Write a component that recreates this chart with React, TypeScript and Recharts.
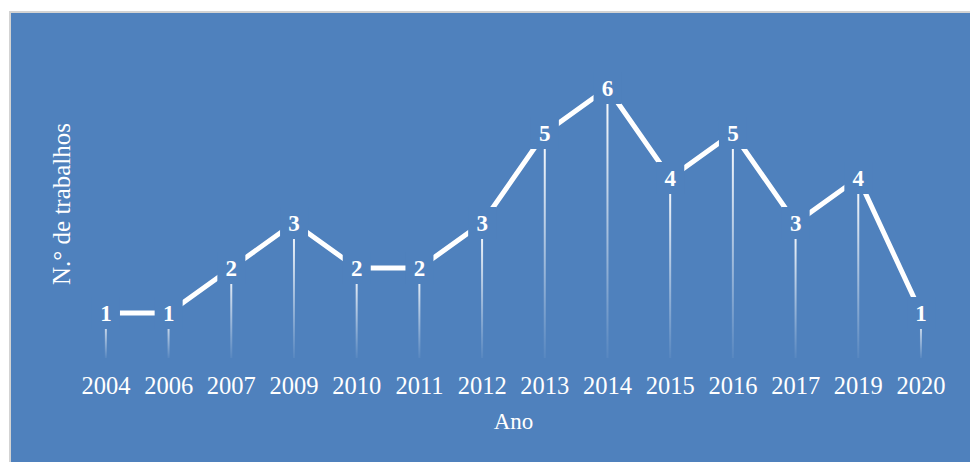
import React from 'react';
import { ComposedChart, Line, Bar, XAxis, YAxis, LabelList } from 'recharts';

const years = ['2004', '2006', '2007', '2009', '2010', '2011', '2012', '2013', '2014', '2015', '2016', '2017', '2019', '2020'];
const works = [1, 1, 2, 3, 2, 2, 3, 5, 6, 4, 5, 3, 4, 1];

const data = years.map((year, i) => ({ year, works: works[i] }));

const BG = '#4F81BD';
const FONT = '"Liberation Serif", "Times New Roman", serif';

// thin fading drop line from the point to the baseline
const DropLine = (props: any) => {
  const { x, y, width, height } = props;
  if (!height || height <= 0) return null;
  return <rect x={x + width / 2 - 1} y={y} width={2} height={height} fill="url(#dropFade)" />;
};

// value label sitting on a background-coloured box that breaks the line
const ValueLabel = (props: any) => {
  const { x, y, value } = props;
  return (
    <g>
      <rect x={x - 14} y={y - 16} width={28} height={32} fill={BG} />
      <text x={x} y={y + 8} textAnchor="middle" fill="#fff" fontFamily={FONT} fontWeight="bold" fontSize={23}>
        {value}
      </text>
    </g>
  );
};

const YearTick = (props: any) => {
  const { x, y, payload } = props;
  return (
    <text x={x} y={y + 36} textAnchor="middle" fill="#fff" fontFamily={FONT} fontSize={24.5}>
      {payload.value}
    </text>
  );
};

export default function App() {
  return (
    <div>
      <div
        style={{
          position: 'fixed',
          left: 9,
          top: 11,
          right: 0,
          bottom: 0,
          background: BG,
          borderLeft: '2px solid #d3d3d3',
          borderTop: '2px solid #d3d3d3',
        }}
      />
      <div style={{ position: 'fixed', left: 0, top: 0 }}>
        <ComposedChart
          width={970}
          height={462}
          data={data}
          margin={{ top: 88, right: 17.6, bottom: 0, left: 74.6 }}
        >
          <defs>
            <linearGradient id="dropFade" x1="0" y1="0" x2="0" y2="1">
              <stop offset="0%" stopColor="#ffffff" stopOpacity={1} />
              <stop offset="100%" stopColor="#ffffff" stopOpacity={0.05} />
            </linearGradient>
          </defs>
          <XAxis
            dataKey="year"
            height={104}
            axisLine={false}
            tickLine={false}
            tickSize={0}
            tickMargin={0}
            interval={0}
            tick={<YearTick />}
            label={{
              content: (p: any) => {
                const vb = p.viewBox || {};
                return (
                  <text
                    x={(vb.x || 0) + (vb.width || 0) / 2}
                    y={(vb.y || 0) + 71}
                    textAnchor="middle"
                    fill="#fff"
                    fontFamily={FONT}
                    fontSize={23}
                  >
                    Ano
                  </text>
                );
              },
            }}
          />
          <YAxis hide domain={[0, 6]} width={0} />
          <Bar dataKey="works" shape={<DropLine />} isAnimationActive={false} />
          <Line
            dataKey="works"
            stroke="#ffffff"
            strokeWidth={5}
            dot={false}
            activeDot={false}
            isAnimationActive={false}
          >
            <LabelList dataKey="works" content={<ValueLabel />} />
          </Line>
          <text
            x={61}
            y={204}
            transform="rotate(-90, 61, 204)"
            textAnchor="middle"
            dominantBaseline="central"
            fill="#fff"
            fontFamily={FONT}
            fontSize={25}
          >
            N.° de trabalhos
          </text>
        </ComposedChart>
      </div>
    </div>
  );
}
